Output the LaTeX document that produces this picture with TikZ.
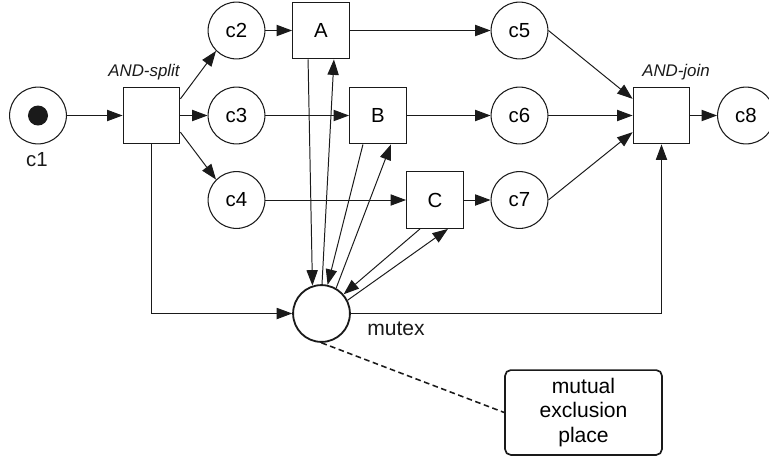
\documentclass[tikz,border=0pt]{standalone}
\usepackage{fontspec}
\setmainfont{Liberation Sans}
\usepackage{tikz}
\usetikzlibrary{arrows.meta}
\definecolor{ink}{HTML}{1A1A1A}
\tikzset{
  place/.style={circle, draw=ink, line width=0.75pt, minimum size=1.42cm, inner sep=0pt, font=\fontsize{14.5}{16}\selectfont},
  trans/.style={rectangle, draw=ink, line width=0.75pt, minimum size=1.42cm, inner sep=0pt, font=\fontsize{14.5}{16}\selectfont},
  arc/.style={draw=ink, line width=0.7pt, -{Triangle[length=11pt, width=8pt]}},
  lbl/.style={text=ink, font=\fontsize{14.5}{16}\selectfont},
  tag/.style={text=ink, font=\fontsize{12}{14}\selectfont\itshape},
  note/.style={rectangle, rounded corners=4pt, draw=ink, line width=1.2pt, minimum width=3.92cm, minimum height=2.12cm, align=center, font=\fontsize{15}{17.4}\selectfont}
}
\begin{document}
\begin{tikzpicture}[x=0.025cm, y=-0.025cm]
\useasboundingbox (0,0) rectangle (769,456);
% places and transitions
\node[place] (c1) at (38,115.5) {};
\fill[ink] (c1) circle (0.25cm);
\node[trans] (split) at (151.5,115.5) {};
\node[place] (c2) at (236.5,30.5) {c2};
\node[place] (c3) at (236.5,115.5) {c3};
\node[place] (c4) at (236.5,200) {c4};
\node[trans] (A) at (321,30.5) {A};
\node[trans] (B) at (378,115.5) {B};
\node[trans] (C) at (435,200) {C};
\node[place] (c5) at (519.5,30.5) {c5};
\node[place] (c6) at (519.5,115.5) {c6};
\node[place] (c7) at (519.5,200) {c7};
\node[trans] (join) at (661.5,115.5) {};
\node[place] (c8) at (746,115.5) {c8};
\node[place, line width=1.3pt] (mutex) at (321.5,313.5) {};
\node[note] (expl) at (583.5,412.5) {mutual\\exclusion\\place};

% labels
\node[lbl] (c1lbl) at (37,160) {c1};
\node[tag] (splitlbl) at (144,72) {AND-split};
\node[tag] (joinlbl) at (676,72) {AND-join};
\node[lbl, font=\fontsize{15}{17}\selectfont] (mutexlbl) at (396,329) {mutex};

% main flow
\draw[arc] (c1) -- (split);
\draw[arc] (split.30) -- (c2.225);
\draw[arc] (split) -- (c3);
\draw[arc] (split.-30) -- (c4.135);
\draw[arc] (c2) -- (A);
\draw[arc] (c3) -- (B);
\draw[arc] (c4) -- (C);
\draw[arc] (A) -- (c5);
\draw[arc] (B) -- (c6);
\draw[arc] (C) -- (c7);
\draw[arc] (c5.east) -- (join.150);
\draw[arc] (c6) -- (join);
\draw[arc] (c7.east) -- (join.210);
\draw[arc] (join) -- (c8);

% mutex arcs
\draw[arc] (split.south) |- (mutex.west);
\draw[arc] (mutex.east) -| (join.south);
\draw[arc] ([xshift=-9.2pt]A.south) -- (mutex.108);
\draw[arc] (mutex.89) -- ([xshift=9.2pt]A.south);
\draw[arc] ([xshift=-10.7pt]B.south) -- (mutex.78);
\draw[arc] (mutex.60) -- ([xshift=9.2pt]B.south);
\draw[arc] ([xshift=-10.7pt]C.south) -- (mutex.41);
\draw[arc] (mutex.27) -- ([xshift=9.2pt]C.south);

% annotation
\draw[ink, line width=1.1pt, dash pattern=on 4pt off 2.5pt] (mutex.south) -- (expl.west);
\end{tikzpicture}
\end{document}
